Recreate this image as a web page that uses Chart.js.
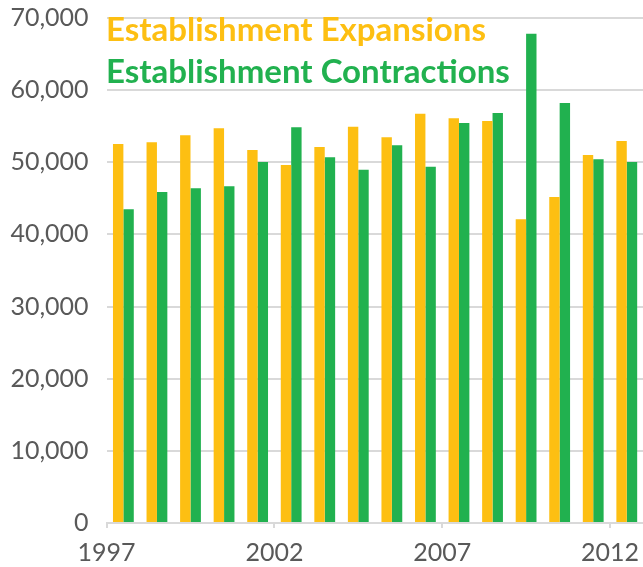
<!DOCTYPE html>
<html>
<head>
<meta charset="utf-8">
<script src="https://cdn.jsdelivr.net/npm/chart.js@4.4.1/dist/chart.umd.min.js"></script>
<style>
  html, body { margin: 0; padding: 0; overflow: hidden; background: #fff; }
</style>
</head>
<body>
<canvas id="chart" width="649" height="567"></canvas>
<script>
// data
const years = [1997, 1998, 1999, 2000, 2001, 2002, 2003, 2004, 2005, 2006, 2007, 2008, 2009, 2010, 2011, 2012];
const expansions = [52540, 52770, 53740, 54710, 51700, 49630, 52120, 54940, 53470, 56740, 56100, 55720, 42100, 45190, 51010, 52950];
const contractions = [43480, 45880, 46400, 46670, 50040, 54850, 50690, 48970, 52360, 49390, 55450, 56830, 67830, 58220, 50420, 50040];
const yearTicks = [1997, 2002, 2007, 2012];
const seriesNames = ["Establishment Expansions", "Establishment Contractions"];

const yellow = "#FDBF12";
const green = "#21B14F";
const gridGray = "#d9d9d9";
const labelGray = "#595959";

// bars sit between year ticks, so put them at year + 0.5 on a linear axis
function toPoints(values) {
  return values.map((v, i) => ({ x: years[i] + 0.5, y: v }));
}

// legend text drawn inside the plot, top left
const legendText = {
  id: "legendText",
  afterDraw(chart) {
    const ctx = chart.ctx;
    ctx.save();
    ctx.font = "bold 33px Lato";
    ctx.textBaseline = "alphabetic";
    ctx.textAlign = "left";
    ctx.fillStyle = yellow;
    ctx.fillText(seriesNames[0], 106, 41);
    ctx.fillStyle = green;
    ctx.fillText(seriesNames[1], 106, 83);
    ctx.restore();
  },
};

const ctx = document.getElementById("chart");

new Chart(ctx, {
  type: "bar",
  data: {
    datasets: [
      {
        label: seriesNames[0],
        data: toPoints(expansions),
        backgroundColor: yellow,
        borderWidth: 0,
      },
      {
        label: seriesNames[1],
        data: toPoints(contractions),
        backgroundColor: green,
        borderWidth: 0,
      },
    ],
  },
  options: {
    responsive: false,
    animation: false,
    categoryPercentage: 0.62,
    barPercentage: 1.0,
    layout: { padding: 0 },
    plugins: {
      legend: { display: false },
      tooltip: { enabled: false },
    },
    scales: {
      x: {
        type: "linear",
        min: 1997,
        max: 2013,
        offset: false,
        grid: {
          offset: false,
          drawOnChartArea: false,
          drawTicks: true,
          tickLength: 5,
          color: gridGray,
          lineWidth: 2,
        },
        border: { color: gridGray, width: 2 },
        afterBuildTicks: (axis) => {
          axis.ticks = yearTicks.map((v) => ({ value: v }));
        },
        afterFit: (axis) => {
          axis.height = 44;
        },
        ticks: {
          font: { family: "Lato", size: 25 },
          color: labelGray,
          padding: 10,
          maxRotation: 0,
          autoSkip: false,
          callback: (v) => String(v),
        },
      },
      y: {
        min: 0,
        max: 70000,
        grid: {
          color: gridGray,
          lineWidth: 2,
          drawTicks: false,
        },
        border: { display: false },
        afterFit: (axis) => {
          axis.width = 106.6;
          axis.paddingTop = 18;
          axis.paddingBottom = 0;
        },
        ticks: {
          stepSize: 10000,
          font: { family: "Lato", size: 25 },
          color: labelGray,
          padding: 18,
          callback: (v) => v.toLocaleString("en-US"),
        },
      },
    },
  },
  plugins: [legendText],
});
</script>
</body>
</html>
